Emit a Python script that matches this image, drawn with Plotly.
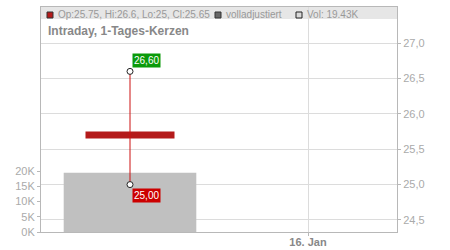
import plotly.graph_objects as go

# ---- data ----
dates = ["2024-01-15"]
opens = [25.75]
highs = [26.6]
lows = [25.0]
closes = [25.65]
volumes = [19430]
price_ticks = [24.5, 25.0, 25.5, 26.0, 26.5, 27.0]
price_ticktext = ["24,5", "25,0", "25,5", "26,0", "26,5", "27,0"]
vol_ticks = [0, 5000, 10000, 15000, 20000]
vol_ticktext = ["0K", "5K", "10K", "15K", "20K"]
x_ticks = ["2024-01-16"]
x_ticktext = ["<b>16. Jan</b>"]
x_range = ["2024-01-14 12:00", "2024-01-16 12:00"]
price_range = [24.33, 27.51]
vol_range = [0, 73800]

DAY = 86400000
FONT = "Liberation Sans, Arial, sans-serif"
L, R, T, B = 41, 53, 7, 18
W, H = 450, 250
PW, PH = W - L - R, H - T - B

def px(x):
    return (x - L) / PW

def py(y):
    return (H - B - y) / PH

fig = go.Figure()

# volume
fig.add_trace(go.Bar(x=dates, y=volumes, width=[0.745 * DAY], marker=dict(color="#c0c0c0", line=dict(width=0)),
                     yaxis="y", hoverinfo="skip"))
# wick
for d, lo, hi in zip(dates, lows, highs):
    fig.add_trace(go.Scatter(x=[d, d], y=[lo, hi], mode="lines", line=dict(color="#cc1010", width=1),
                             yaxis="y2", hoverinfo="skip"))
# body
fig.add_trace(go.Bar(x=dates, y=[abs(o - c) for o, c in zip(opens, closes)],
                     base=[min(o, c) for o, c in zip(opens, closes)], width=[0.5 * DAY],
                     marker=dict(color="#b41a1a", line=dict(width=0)), yaxis="y2", hoverinfo="skip"))
# high/low markers
fig.add_trace(go.Scatter(x=dates + dates, y=highs + lows, mode="markers",
                         marker=dict(size=6, color="white", line=dict(color="#222", width=1)),
                         yaxis="y2", hoverinfo="skip"))

# labels on high / low
for d, hi, lo in zip(dates, highs, lows):
    fig.add_annotation(x=d, y=hi, xref="x", yref="y2", text=f"{hi:.2f}".replace(".", ","),
                       xanchor="left", yanchor="bottom", xshift=2, yshift=3, showarrow=False,
                       bgcolor="#0a9a0a", borderpad=1, font=dict(color="white", size=10, family=FONT))
    fig.add_annotation(x=d, y=lo, xref="x", yref="y2", text=f"{lo:.2f}".replace(".", ","),
                       xanchor="left", yanchor="top", xshift=2, yshift=-3, showarrow=False,
                       bgcolor="#cc0000", borderpad=1, font=dict(color="white", size=10, family=FONT))

# header bar
fig.add_shape(type="rect", xref="paper", yref="paper", x0=0, x1=1, y0=py(19), y1=1,
              fillcolor="#e6e6e6", line=dict(width=0), layer="below")

legend_items = [
    (47, "#b41a1a", "#333", 56, f"Op:{opens[0]:g}, Hi:{highs[0]:g}, Lo:{lows[0]:g}, Cl:{closes[0]:g}"),
    (215, "#666666", "#333", 224, "volladjustiert"),
    (296, "#d9d9d9", "#222", 305, f"Vol: {volumes[0]/1000:.2f}K"),
]
for sx, fc, lc, tx, txt in legend_items:
    fig.add_shape(type="rect", xref="paper", yref="paper", x0=px(sx), x1=px(sx + 6),
                  y0=py(18), y1=py(12), fillcolor=fc, line=dict(color=lc, width=1), layer="above")
    fig.add_annotation(xref="paper", yref="paper", x=px(tx), y=py(14.8), text=txt, showarrow=False,
                       xanchor="left", yanchor="middle", font=dict(color="#999", size=10, family=FONT))

fig.add_annotation(xref="paper", yref="paper", x=px(46), y=py(30.5), text="<b>Intraday, 1-Tages-Kerzen</b>",
                   showarrow=False, xanchor="left", yanchor="middle",
                   font=dict(color="#888", size=12, family=FONT))

fig.update_layout(
    width=W, height=H, margin=dict(l=L, r=R, t=T, b=B, autoexpand=False),
    paper_bgcolor="white", plot_bgcolor="white", showlegend=False, barmode="overlay",
    font=dict(family=FONT, color="#aaa", size=11),
    xaxis=dict(type="date", range=x_range, tickvals=x_ticks, ticktext=x_ticktext, automargin=False,
               showgrid=True, gridcolor="#dcdcdc", gridwidth=1,
               showline=True, linecolor="#b8b8b8", mirror=True,
               ticks="outside", ticklen=3, tickcolor="#b8b8b8", ticklabelstandoff=-3,
               tickfont=dict(color="#888", size=11, family=FONT)),
    yaxis=dict(range=vol_range, side="left", tickvals=vol_ticks, ticktext=vol_ticktext, automargin=False,
               showgrid=False, zeroline=False, showline=True, linecolor="#b8b8b8", mirror=True,
               ticks="outside", ticklen=3, tickcolor="#b8b8b8",
               tickfont=dict(color="#aaa", size=11, family=FONT)),
    yaxis2=dict(range=price_range, side="right", overlaying="y", tickvals=price_ticks, ticktext=price_ticktext,
                automargin=False, showgrid=True, gridcolor="#dcdcdc", zeroline=False,
                ticks="outside", ticklen=3, tickcolor="#b8b8b8",
                tickfont=dict(color="#aaa", size=11, family=FONT)),
)

fig.write_html("out.html")
